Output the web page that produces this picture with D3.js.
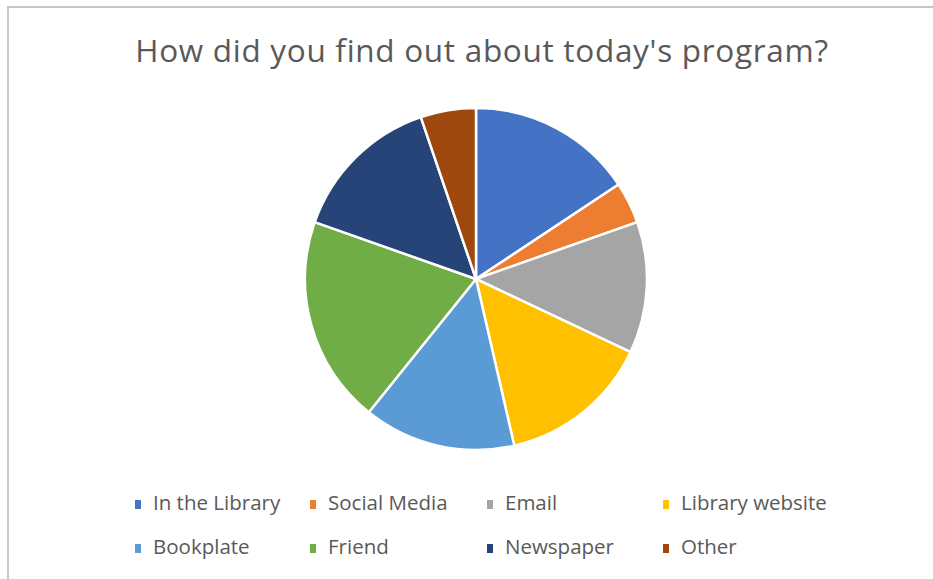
<!DOCTYPE html>
<html>
<head>
<meta charset="utf-8">
<script src="https://cdn.jsdelivr.net/npm/d3@7"></script>
<style>
  body { margin: 0; background: #fff; }
  svg { display: block; }
  text { font-family: "Open Sans", "Noto Sans", sans-serif; fill: #595959; }
</style>
</head>
<body>
<script>
// survey answers
const categories = ["In the Library", "Social Media", "Email", "Library website",
                    "Bookplate", "Friend", "Newspaper", "Other"];
const responses = [12, 3, 9.5, 11, 11, 15, 11, 4];
const colors = ["#4472C4", "#ED7D31", "#A5A5A5", "#FFC000",
                "#5B9BD5", "#70AD47", "#264478", "#9E480E"];
const title = "How did you find out about today's program?";

const width = 933, height = 579;
const cx = 476, cy = 279, radius = 171;

let svg = d3.select("body").append("svg")
    .attr("width", width)
    .attr("height", height);

// chart frame (only top and left show in the crop)
svg.append("path")
    .attr("d", d3.line()([[8, height], [8, 7], [width, 7]]))
    .attr("fill", "none")
    .attr("stroke", "#c6c6c6")
    .attr("stroke-width", 2);

svg.append("text")
    .attr("x", 482)
    .attr("y", 62)
    .attr("text-anchor", "middle")
    .attr("font-size", 31.5)
    .attr("letter-spacing", 0.7)
    .text(title);

let data = categories.map((c, i) => ({ name: c, value: responses[i], color: colors[i] }));

let pie = d3.pie().value(d => d.value).sort(null);
let arc = d3.arc().innerRadius(0).outerRadius(radius);

svg.append("g")
    .attr("transform", `translate(${cx},${cy})`)
    .selectAll("path")
    .data(pie(data))
    .enter()
    .append("path")
        .attr("d", arc)
        .attr("fill", d => d.data.color)
        .attr("stroke", "#fff")
        .attr("stroke-width", 2.5)
        .attr("stroke-linejoin", "round");

// legend: 4 columns, 2 rows
const colX = d3.scaleOrdinal().domain([0, 1, 2, 3]).range([135, 310, 487, 663]);
const rowY = d3.scaleOrdinal().domain([0, 1]).range([503, 547]);

let legend = svg.selectAll(".legend")
    .data(data)
    .enter()
    .append("g")
        .attr("class", "legend")
        .attr("transform", (d, i) => `translate(${colX(i % 4)},${rowY(Math.floor(i / 4))})`);

legend.append("rect")
    .attr("x", 0)
    .attr("y", -3)
    .attr("width", 6)
    .attr("height", 9)
    .attr("fill", d => d.color);

legend.append("text")
    .attr("x", 18)
    .attr("y", 0)
    .attr("dy", "0.35em")
    .attr("font-size", 20.5)
    .text(d => d.name);
</script>
</body>
</html>
